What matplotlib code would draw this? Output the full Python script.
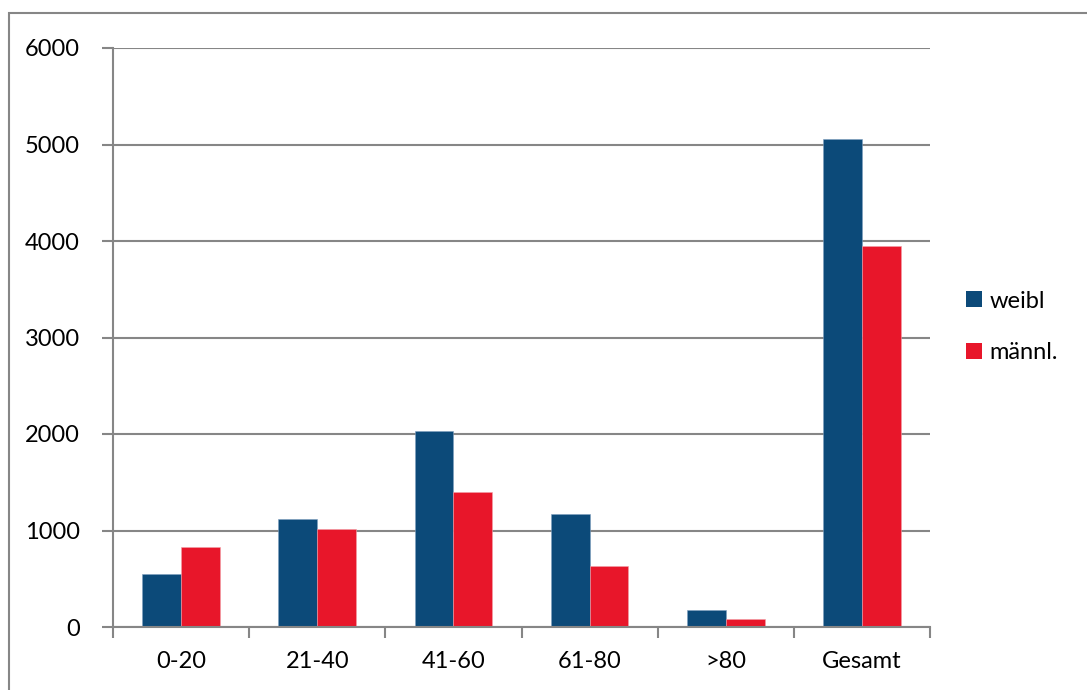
import numpy as np
import matplotlib
matplotlib.use('Agg')
from matplotlib import pyplot as plt
from matplotlib.patches import Rectangle

#data
categories = ['0-20', '21-40', '41-60', '61-80', '>80', 'Gesamt']
weibl = [546, 1124, 2032, 1172, 180, 5059]
maennl = [829, 1016, 1397, 637, 80, 3948]

blue = '#0C4A79'
red = '#E8162A'
grey = '#868686'

plt.rcParams['font.family'] = ['Lato', 'DejaVu Sans']

fig = plt.figure(figsize=(10.87, 6.90), dpi=100)
ax = fig.add_axes([113/1087, 1-627/690, (930-113)/1087, (627-48)/690])

#outer chart border (left and top only visible)
fig.patches.append(Rectangle((9/1087, -0.1), 1.2, 1.1 - 13.5/690, transform=fig.transFigure,
                             fill=False, edgecolor=grey, linewidth=1.5))

ind = np.arange(len(categories))
width = 1/3.5
p1 = ax.bar(ind - width/2, weibl, width, color=blue, edgecolor='#7f9fbf', linewidth=0.4, zorder=3)
p2 = ax.bar(ind + width/2, maennl, width, color=red, edgecolor='#f2a0a8', linewidth=0.4, zorder=3)

ax.set_xlim(-0.5, len(categories) - 0.5)
ax.set_ylim(0, 6000)
ax.set_yticks(np.arange(0, 6001, 1000))
ax.yaxis.grid(True, color=grey, linewidth=1.5, zorder=0)
ax.set_axisbelow(True)

ax.set_xticks(ind)
ax.set_xticklabels(categories)
ax.set_xticks(np.arange(-0.5, len(categories)), minor=True)
ax.tick_params(axis='x', which='major', length=0, pad=17, labelsize=17)
ax.tick_params(axis='x', which='minor', length=8, width=1.5, color=grey)
ax.tick_params(axis='y', length=8, width=1.5, color=grey, pad=16, labelsize=17)

for s in ['top', 'right']:
    ax.spines[s].set_visible(False)
for s in ['left', 'bottom']:
    ax.spines[s].set_color(grey)
    ax.spines[s].set_linewidth(1.5)
ax.spines['bottom'].set_zorder(4)

leg = fig.legend((p1[0], p2[0]), ('weibl', 'männl.'), loc='center left',
                 bbox_to_anchor=(945/1087, 1-327/690), frameon=False, fontsize=17,
                 handlelength=0.65, handleheight=0.65, handletextpad=0.35, labelspacing=1.3)
for h in leg.legend_handles:
    h.set_edgecolor('none')

plt.savefig('out.png', dpi=100)
